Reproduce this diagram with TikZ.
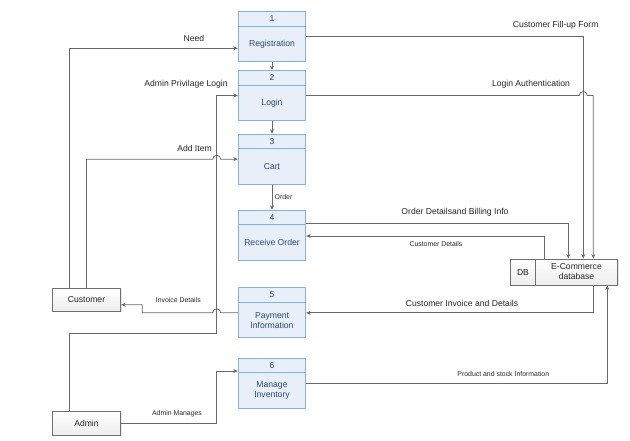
\documentclass[tikz,border=0pt]{standalone}
\usepackage{fontspec}
\setmainfont{Liberation Sans}
\usetikzlibrary{arrows.meta,shadows}

\definecolor{procfill}{HTML}{E8EFF9}
\definecolor{procline}{HTML}{7FB2E5}
\definecolor{proctext}{HTML}{2B4A78}
\definecolor{flowline}{HTML}{6A6A6A}
\definecolor{entline}{HTML}{707070}
\definecolor{labtext}{HTML}{262626}

\tikzset{
  proc/.style={draw=procline, fill=procfill, line width=0.9pt,
    minimum width=67.4pt, minimum height=50pt, inner sep=0pt},
  divider/.style={draw=procline, line width=0.9pt},
  proctxt/.style={text=proctext, font=\fontsize{8.6}{10}\selectfont,
    align=center, inner sep=0pt},
  entity/.style={draw=entline, line width=0.8pt, top color=white,
    bottom color=black!7, drop shadow={shadow xshift=1pt, shadow yshift=-1pt,
    opacity=0.18}, inner sep=0pt},
  enttxt/.style={text=labtext, font=\fontsize{8.6}{10}\selectfont, inner sep=0pt, align=center},
  flow/.style={draw=flowline, line width=0.8pt,
    -{Stealth[length=4.5pt,width=4pt]}},
  plain/.style={draw=flowline, line width=0.8pt},
  biglab/.style={text=labtext, font=\fontsize{8.6}{10}\selectfont, inner sep=0pt},
  smalllab/.style={text=labtext, font=\fontsize{6.9}{8}\selectfont, inner sep=0pt},
}

\begin{document}
\begin{tikzpicture}[x=1pt, y=-1pt]
\useasboundingbox (0,0) rectangle (630,441);

% ---- processes ----
\foreach \n/\cy/\ttl in {1/36.7/Registration, 2/95.5/Login, 3/159.2/Cart,
    4/235.2/Receive Order, 5/312.8/{Payment\\Information}, 6/383.3/{Manage\\Inventory}} {
  \node[proc] (p\n) at (272,\cy) {};
  \draw[divider] ([yshift=-15pt]p\n.north west) -- ([yshift=-15pt]p\n.north east);
  \node[proctxt] (p\n num) at ([yshift=-7.5pt]p\n.north) {\n};
  \node[proctxt] (p\n txt) at ([yshift=-7.5pt]p\n.center) {\ttl};
}

% ---- external entities ----
\node[entity, minimum width=68.4pt, minimum height=23pt] (cust) at (86.5,299.8) {};
\node[enttxt] (custtxt) at (cust) {Customer};
\node[entity, minimum width=68.4pt, minimum height=24pt] (admin) at (86.5,423.3) {};
\node[enttxt] (admintxt) at (admin) {Admin};

% ---- data store ----
\node[entity, minimum width=107pt, minimum height=26pt] (db) at (564.2,272) {};
\draw[entline, line width=0.8pt] (535,259) -- (535,285);
\node[enttxt] (dbtag) at (523,272.5) {DB};
\node[enttxt] (dbtxt) at (576.5,272) {E-Commerce\\database};

% ---- flows between processes ----
\draw[flow] (p1.south) -- (p2.north);
\draw[flow] (p2.south) -- (p3.north);
\draw[flow] (p3.south) -- (p4.north);
\node[smalllab, anchor=west] (lorder) at (274.5,197.5) {Order};

% ---- customer side ----
\coordinate (needin) at (p1.west |- 0,48.3);
\draw[flow] (69.3,288.3) -- (69.3,48.3) -- (needin);
\node[biglab] (lneed) at (194,38.5) {Need};

\draw[flow] (cust.north) |- (212.7,159.2)
  arc[start angle=180, end angle=0, radius=4pt] -- (p3.west);
\node[biglab] (ladd) at (194.5,148.3) {Add Item};

\coordinate (invtop) at (cust.east |- 0,304.7);
\draw[flow] (p5.west) -- (220.7,312.8)
  arc[start angle=0, end angle=180, radius=4pt] -- (142.3,312.8) -- (142.3,304.7) -- (invtop);
\node[smalllab] (linv) at (178.3,300) {Invoice Details};

% ---- admin side ----
\draw[flow] (admin.north -| 69.3,0) -- (69.3,333.3) -- (216.7,333.3) -- (216.7,95.5) -- (p2.west);
\node[biglab] (lpriv) at (186,84.5) {Admin Privilage Login};

\coordinate (mgin) at (p6.west |- 0,371);
\draw[flow] (admin.east) -- (216.7,423.3) -- (216.7,371) -- (mgin);
\node[smalllab] (lmgr) at (177,413.5) {Admin Manages};

% ---- database side ----
\draw[flow] (p1.east) -- (583.3,36.7) -- (db.north -| 583.3,0);
\node[biglab] (lfill) at (555.7,25.7) {Customer Fill-up Form};

\draw[flow] (p2.east) -- (579.3,95.5)
  arc[start angle=180, end angle=0, radius=4pt] -- (593.3,95.5) -- (db.north -| 593.3,0);
\node[biglab] (lauth) at (531,84.3) {Login Authentication};

\coordinate (ordout) at (p4.east |- 0,223.3);
\draw[flow] (ordout) -- (568.3,223.3) -- (db.north -| 568.3,0);
\node[biglab] (lord) at (455,212) {Order Detailsand Billing Info};

\coordinate (cdin) at (p4.east |- 0,236);
\draw[flow] (db.north -| 544.3,0) -- (544.3,236) -- (cdin);
\node[smalllab] (lcd) at (436,244.3) {Customer Details};

\draw[flow] (db.south -| 593.3,0) -- (593.3,312.8) -- (p5.east);
\node[biglab] (lcinv) at (462,303) {Customer Invoice and Details};

\draw[flow] (p6.east) -- (607.3,383.3) -- (db.south -| 607.3,0);
\node[smalllab] (lprod) at (503.3,374.3) {Product and stock Information};

\end{tikzpicture}
\end{document}
